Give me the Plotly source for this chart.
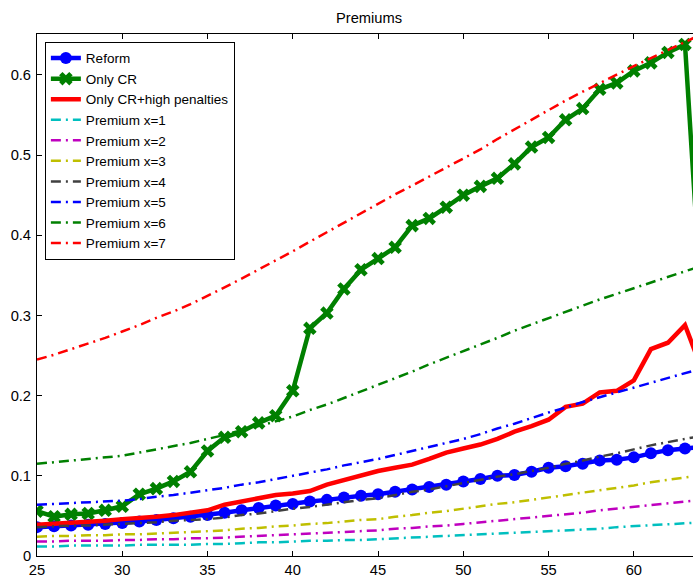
import plotly.graph_objects as go

ages = list(range(25, 65))

reform = [0.036, 0.037, 0.038, 0.039, 0.040, 0.041, 0.043, 0.045, 0.047, 0.049,
          0.051, 0.054, 0.057, 0.060, 0.063, 0.065, 0.068, 0.070, 0.073, 0.075,
          0.077, 0.080, 0.083, 0.086, 0.089, 0.093, 0.096, 0.100, 0.101, 0.105,
          0.110, 0.112, 0.115, 0.119, 0.120, 0.123, 0.128, 0.132, 0.134, 0.136]
only_cr = [0.056, 0.049, 0.052, 0.053, 0.057, 0.062, 0.077, 0.084, 0.093, 0.105,
           0.131, 0.148, 0.155, 0.166, 0.175, 0.206, 0.284, 0.303, 0.333, 0.357,
           0.371, 0.385, 0.412, 0.421, 0.435, 0.450, 0.461, 0.471, 0.489, 0.510,
           0.522, 0.544, 0.558, 0.582, 0.590, 0.605, 0.615, 0.628, 0.638, 0.300]
only_cr_high = [0.039, 0.040, 0.041, 0.042, 0.044, 0.046, 0.047, 0.049, 0.051, 0.054,
                0.057, 0.064, 0.068, 0.072, 0.076, 0.078, 0.081, 0.089, 0.095, 0.100,
                0.106, 0.110, 0.114, 0.121, 0.129, 0.134, 0.139, 0.146, 0.155, 0.162,
                0.170, 0.186, 0.190, 0.204, 0.206, 0.219, 0.258, 0.266, 0.288, 0.232]

prem1 = [0.012, 0.012, 0.013, 0.013, 0.013, 0.013, 0.014, 0.014, 0.014, 0.014,
         0.015, 0.015, 0.016, 0.017, 0.017, 0.018, 0.019, 0.019, 0.020, 0.020,
         0.021, 0.022, 0.023, 0.024, 0.025, 0.026, 0.027, 0.028, 0.029, 0.030,
         0.031, 0.032, 0.033, 0.034, 0.036, 0.037, 0.038, 0.039, 0.040, 0.042]
prem2 = [0.018, 0.018, 0.019, 0.019, 0.019, 0.020, 0.020, 0.021, 0.021, 0.022,
         0.022, 0.023, 0.024, 0.025, 0.026, 0.027, 0.028, 0.029, 0.030, 0.031,
         0.032, 0.034, 0.035, 0.037, 0.038, 0.040, 0.042, 0.044, 0.046, 0.048,
         0.050, 0.052, 0.054, 0.057, 0.059, 0.061, 0.063, 0.065, 0.067, 0.070]
prem3 = [0.024, 0.025, 0.025, 0.026, 0.026, 0.027, 0.027, 0.028, 0.029, 0.030,
         0.031, 0.032, 0.034, 0.035, 0.037, 0.038, 0.040, 0.041, 0.043, 0.045,
         0.046, 0.049, 0.051, 0.054, 0.056, 0.059, 0.062, 0.065, 0.067, 0.070,
         0.073, 0.076, 0.079, 0.082, 0.085, 0.088, 0.092, 0.095, 0.098, 0.101]
prem4 = [0.036, 0.037, 0.038, 0.038, 0.039, 0.040, 0.041, 0.042, 0.044, 0.045,
         0.046, 0.048, 0.051, 0.053, 0.056, 0.059, 0.061, 0.064, 0.067, 0.070,
         0.072, 0.076, 0.080, 0.083, 0.087, 0.091, 0.095, 0.099, 0.102, 0.106,
         0.110, 0.115, 0.119, 0.124, 0.128, 0.133, 0.138, 0.142, 0.146, 0.150]
prem5 = [0.064, 0.065, 0.066, 0.067, 0.068, 0.069, 0.071, 0.074, 0.076, 0.079,
         0.082, 0.085, 0.089, 0.092, 0.096, 0.100, 0.104, 0.108, 0.113, 0.117,
         0.121, 0.126, 0.131, 0.136, 0.141, 0.146, 0.152, 0.159, 0.165, 0.172,
         0.179, 0.185, 0.192, 0.198, 0.204, 0.210, 0.216, 0.222, 0.228, 0.234]
prem6 = [0.115, 0.117, 0.119, 0.121, 0.123, 0.125, 0.129, 0.133, 0.137, 0.141,
         0.146, 0.151, 0.157, 0.162, 0.168, 0.174, 0.182, 0.189, 0.197, 0.205,
         0.213, 0.222, 0.230, 0.239, 0.247, 0.256, 0.264, 0.272, 0.281, 0.289,
         0.297, 0.305, 0.312, 0.320, 0.327, 0.334, 0.341, 0.348, 0.355, 0.362]
prem7 = [0.245, 0.251, 0.258, 0.265, 0.272, 0.280, 0.288, 0.297, 0.305, 0.314,
         0.324, 0.335, 0.346, 0.357, 0.368, 0.380, 0.392, 0.404, 0.416, 0.428,
         0.439, 0.451, 0.462, 0.473, 0.484, 0.495, 0.507, 0.520, 0.532, 0.545,
         0.557, 0.568, 0.579, 0.590, 0.600, 0.611, 0.621, 0.631, 0.641, 0.651]

premiums = [prem1, prem2, prem3, prem4, prem5, prem6, prem7]
prem_colors = ["rgb(0,191,191)", "rgb(191,0,191)", "rgb(191,191,0)", "rgb(64,64,64)",
               "rgb(0,0,255)", "rgb(0,128,0)", "rgb(255,0,0)"]

fig = go.Figure()
fig.add_trace(go.Scatter(x=ages, y=reform, name="Reform", mode="lines+markers",
                         line=dict(color="rgb(0,0,255)", width=4.5),
                         marker=dict(symbol="circle", size=12, color="rgb(0,0,255)")))
fig.add_trace(go.Scatter(x=ages, y=only_cr, name="Only CR", mode="lines+markers",
                         line=dict(color="rgb(0,128,0)", width=4.5),
                         marker=dict(symbol="x", size=12, color="rgb(0,128,0)")))
fig.add_trace(go.Scatter(x=ages, y=only_cr_high, name="Only CR+high penalties", mode="lines",
                         line=dict(color="rgb(255,0,0)", width=4.5)))
for i, p in enumerate(premiums):
    fig.add_trace(go.Scatter(x=ages, y=p, name="Premium x=%d" % (i + 1), mode="lines",
                             line=dict(color=prem_colors[i], width=2.5, dash="10px,5px,2px,5px")))

fam = "Liberation Sans, Arial, sans-serif"
axis_font = dict(family=fam, size=14.7, color="black")
fig.update_layout(
    width=693, height=578,
    margin=dict(l=37, r=0, t=34, b=19),
    plot_bgcolor="white", paper_bgcolor="white",
    title=dict(text="Premiums", x=369 / 693, xref="container", xanchor="center",
               y=1 - 18 / 578, yref="container", yanchor="middle",
               font=dict(family=fam, size=14.7, color="black")),
    font=axis_font,
    legend=dict(x=0.012, y=0.985, xanchor="left", yanchor="top", bgcolor="white",
                bordercolor="black", borderwidth=1, font=dict(family=fam, size=13.5, color="black"),
                tracegroupgap=0),
    xaxis=dict(range=[25, 63.47], tickvals=[25, 30, 35, 40, 45, 50, 55, 60],
               ticks="inside", ticklen=5, tickcolor="black", showgrid=False, zeroline=False,
               showline=True, linecolor="black", linewidth=1, mirror="ticks",
               tickfont=axis_font, ticklabelstandoff=0),
    yaxis=dict(range=[0, 0.651], tickvals=[0, 0.1, 0.2, 0.3, 0.4, 0.5, 0.6],
               ticktext=["0", "0.1", "0.2", "0.3", "0.4", "0.5", "0.6"],
               ticks="inside", ticklen=5, tickcolor="black", showgrid=False, zeroline=False,
               showline=True, linecolor="black", linewidth=1, tickfont=axis_font,
               ticklabelstandoff=2),
)

# drop the default page margin so the figure sits at the window's corner
fig.write_html("out.html", config={"displayModeBar": False},
               post_script="document.body.style.margin='0';")
